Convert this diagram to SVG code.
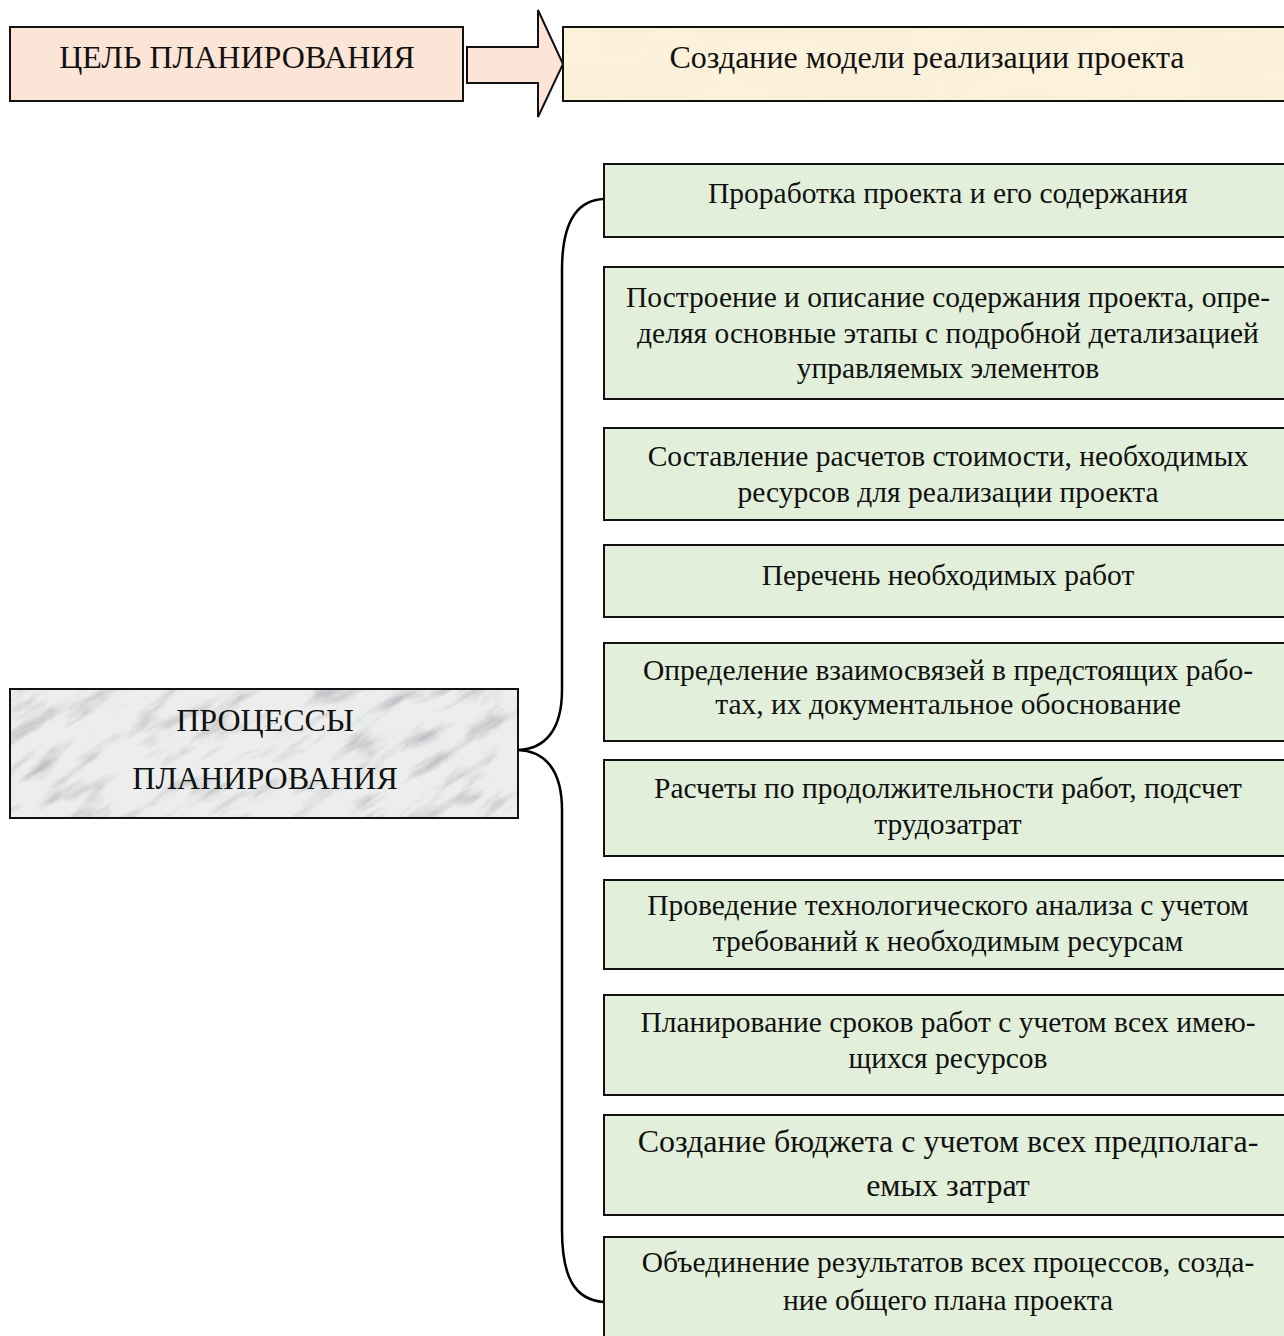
<svg xmlns="http://www.w3.org/2000/svg" width="1284" height="1336" viewBox="0 0 1284 1336">
  <style>
    .t { font-family: "Liberation Serif", "Times New Roman", serif; fill: #111; text-anchor: middle; }
    .big { font-size: 32px; }
    .item { font-size: 29.5px; }
    .box { stroke: #111; stroke-width: 2; }
    .green { fill: #e2efda; }
    .brace { fill: none; stroke: #000; stroke-width: 2.5; }
  </style>
  <defs>
    <filter id="marble" x="0" y="0" width="100%" height="100%">
      <feTurbulence type="fractalNoise" baseFrequency="0.018 0.07" numOctaves="5" seed="23" result="n"/>
      <feColorMatrix in="n" type="matrix" values="0 0 0 0 0.52  0 0 0 0 0.53  0 0 0 0 0.55  2.6 0 0 0 -1.3" result="streak"/>
      <feFlood flood-color="#eceeee" result="base"/>
      <feComposite in="streak" in2="base" operator="over" result="m"/>
      <feComposite in="m" in2="SourceGraphic" operator="in"/>
    </filter>
    <filter id="parch" x="0" y="0" width="100%" height="100%">
      <feTurbulence type="fractalNoise" baseFrequency="0.01 0.03" numOctaves="3" seed="3" result="n"/>
      <feColorMatrix in="n" type="matrix" values="0 0 0 0 0.93  0 0 0 0 0.86  0 0 0 0 0.70  0.9 0 0 0 -0.35" result="spots"/>
      <feFlood flood-color="#fcf1da" result="base"/>
      <feComposite in="spots" in2="base" operator="over" result="m"/>
      <feComposite in="m" in2="SourceGraphic" operator="in"/>
    </filter>
    <clipPath id="procClip">
      <rect x="10" y="689" width="508" height="129"/>
    </clipPath>
  </defs>

  <!-- header: goal and its result -->
  <g id="goal">
    <rect class="box" x="10" y="27" width="453" height="74" fill="#fce4d6"/>
    <text class="t big" x="237" y="68">ЦЕЛЬ ПЛАНИРОВАНИЯ</text>
  </g>
  <g id="goal-arrow">
    <path d="M467,47 H538 V10 L563,64 L538,117 V83 H467 Z" fill="#fce4d6" stroke="#111" stroke-width="2" stroke-linejoin="miter"/>
  </g>
  <g id="goal-result">
    <rect x="563" y="27" width="730" height="74" fill="#fcf1da" filter="url(#parch)"/>
    <rect class="box" x="563" y="27" width="730" height="74" fill="none"/>
    <text class="t big" x="927" y="68">Создание модели реализации проекта</text>
  </g>

  <!-- root of the process list, on a marble fill -->
  <g id="processes">
    <g clip-path="url(#procClip)">
      <rect x="10" y="689" width="508" height="129" fill="#eceeee"/>
      <rect x="-200" y="400" width="900" height="700" fill="#eceeee" filter="url(#marble)" transform="rotate(-32 264 753)"/>
    </g>
    <rect class="box" x="10" y="689" width="508" height="129" fill="none"/>
    <text class="t big" x="265" y="731">ПРОЦЕССЫ</text>
    <text class="t big" x="265" y="789">ПЛАНИРОВАНИЯ</text>
  </g>

  <!-- curly brace joining the root to the first and last steps -->
  <g id="connectors">
    <path class="brace" d="M604,199 C575,200 562,225 562,270 L562,690 C562,730 545,749 518,750 C545,751 562,770 562,810 L562,1230 C562,1278 575,1300 604,1302"/>
  </g>

  <!-- process steps -->
  <g id="step1">
    <rect class="box green" x="604" y="164" width="690" height="73"/>
    <text class="t item" x="948" y="203">Проработка проекта и его содержания</text>
  </g>
  <g id="step2">
    <rect class="box green" x="604" y="267" width="690" height="132"/>
    <text class="t item" x="948" y="307">Построение и описание содержания проекта, опре-</text>
    <text class="t item" x="948" y="343">деляя основные этапы с подробной детализацией</text>
    <text class="t item" x="948" y="378">управляемых элементов</text>
  </g>
  <g id="step3">
    <rect class="box green" x="604" y="428" width="690" height="92"/>
    <text class="t item" x="948" y="466">Составление расчетов стоимости, необходимых</text>
    <text class="t item" x="948" y="502">ресурсов для реализации проекта</text>
  </g>
  <g id="step4">
    <rect class="box green" x="604" y="545" width="690" height="72"/>
    <text class="t item" x="948" y="585">Перечень необходимых работ</text>
  </g>
  <g id="step5">
    <rect class="box green" x="604" y="643" width="690" height="98"/>
    <text class="t item" x="948" y="680">Определение взаимосвязей в предстоящих рабо-</text>
    <text class="t item" x="948" y="714">тах, их документальное обоснование</text>
  </g>
  <g id="step6">
    <rect class="box green" x="604" y="760" width="690" height="96"/>
    <text class="t item" x="948" y="798">Расчеты по продолжительности работ, подсчет</text>
    <text class="t item" x="948" y="834">трудозатрат</text>
  </g>
  <g id="step7">
    <rect class="box green" x="604" y="880" width="690" height="89"/>
    <text class="t item" x="948" y="915">Проведение технологического анализа с учетом</text>
    <text class="t item" x="948" y="951">требований к необходимым ресурсам</text>
  </g>
  <g id="step8">
    <rect class="box green" x="604" y="995" width="690" height="100"/>
    <text class="t item" x="948" y="1032">Планирование сроков работ с учетом всех имею-</text>
    <text class="t item" x="948" y="1068">щихся ресурсов</text>
  </g>
  <g id="step9">
    <rect class="box green" x="604" y="1115" width="690" height="100"/>
    <text class="t item" x="948" y="1152" style="font-size:32px">Создание бюджета с учетом всех предполага-</text>
    <text class="t item" x="948" y="1196" style="font-size:32px">емых затрат</text>
  </g>
  <g id="step10">
    <rect class="box green" x="604" y="1237" width="690" height="110"/>
    <text class="t item" x="948" y="1272">Объединение результатов всех процессов, созда-</text>
    <text class="t item" x="948" y="1310">ние общего плана проекта</text>
  </g>
</svg>
